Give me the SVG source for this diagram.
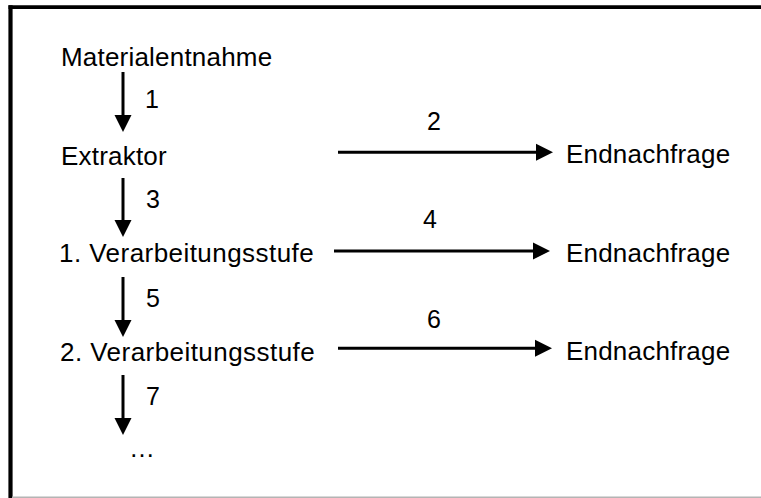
<svg xmlns="http://www.w3.org/2000/svg" width="761" height="498" viewBox="0 0 761 498">
  <defs>
    <marker id="head" markerUnits="userSpaceOnUse" markerWidth="17" markerHeight="17" refX="0" refY="8.5" orient="auto" overflow="visible">
      <path d="M0,0 L17,8.5 L0,17 Z" fill="#000"/>
    </marker>
  </defs>
  <style>
    .lbl { font-family: "Liberation Sans", Arial, sans-serif; font-size: 26px; fill: #000; letter-spacing: 0.2px; }
    .num { font-family: "Liberation Sans", Arial, sans-serif; font-size: 25px; fill: #000; }
    .flow { stroke: #000; stroke-width: 3; fill: none; marker-end: url(#head); }
  </style>
  <rect width="761" height="498" fill="#fff"/>

  <!-- frame -->
  <g id="frame">
    <line x1="8.5" y1="7.2" x2="761" y2="7.2" stroke="#000" stroke-width="3.8"/>
    <line x1="10.5" y1="5.3" x2="10.5" y2="498" stroke="#000" stroke-width="4.2"/>
    <line x1="12" y1="497.3" x2="761" y2="497.3" stroke="#b4b4b4" stroke-width="1.4"/>
  </g>

  <!-- stages -->
  <g id="materialentnahme"><text class="lbl" x="61" y="66">Materialentnahme</text></g>
  <g id="extraktor"><text class="lbl" x="61" y="165">Extraktor</text></g>
  <g id="stufe1"><text class="lbl" x="59" y="262" style="letter-spacing:0.45px">1. Verarbeitungsstufe</text></g>
  <g id="stufe2"><text class="lbl" x="60" y="361" style="letter-spacing:0.45px">2. Verarbeitungsstufe</text></g>
  <g id="weitere"><text class="lbl" x="129" y="457" style="letter-spacing:0">…</text></g>

  <!-- final demand -->
  <g id="endnachfrage1"><text class="lbl" x="566" y="163">Endnachfrage</text></g>
  <g id="endnachfrage2"><text class="lbl" x="566" y="262">Endnachfrage</text></g>
  <g id="endnachfrage3"><text class="lbl" x="566" y="360">Endnachfrage</text></g>

  <!-- flows -->
  <g id="connectors">
    <line class="flow" x1="123" y1="72" x2="123" y2="115"/>
    <line class="flow" x1="123" y1="178" x2="123" y2="220"/>
    <line class="flow" x1="123" y1="277" x2="123" y2="320"/>
    <line class="flow" x1="123" y1="375" x2="123" y2="418"/>
    <line class="flow" x1="338" y1="152.3" x2="536" y2="152.3"/>
    <line class="flow" x1="334" y1="251" x2="533" y2="251"/>
    <line class="flow" x1="338" y1="348.3" x2="535" y2="348.3"/>
  </g>

  <!-- flow numbers -->
  <g id="flow-labels">
    <text class="num" x="145" y="108">1</text>
    <text class="num" x="427" y="130">2</text>
    <text class="num" x="146" y="208">3</text>
    <text class="num" x="423" y="228">4</text>
    <text class="num" x="146" y="307">5</text>
    <text class="num" x="427" y="328">6</text>
    <text class="num" x="146" y="405">7</text>
  </g>
</svg>
